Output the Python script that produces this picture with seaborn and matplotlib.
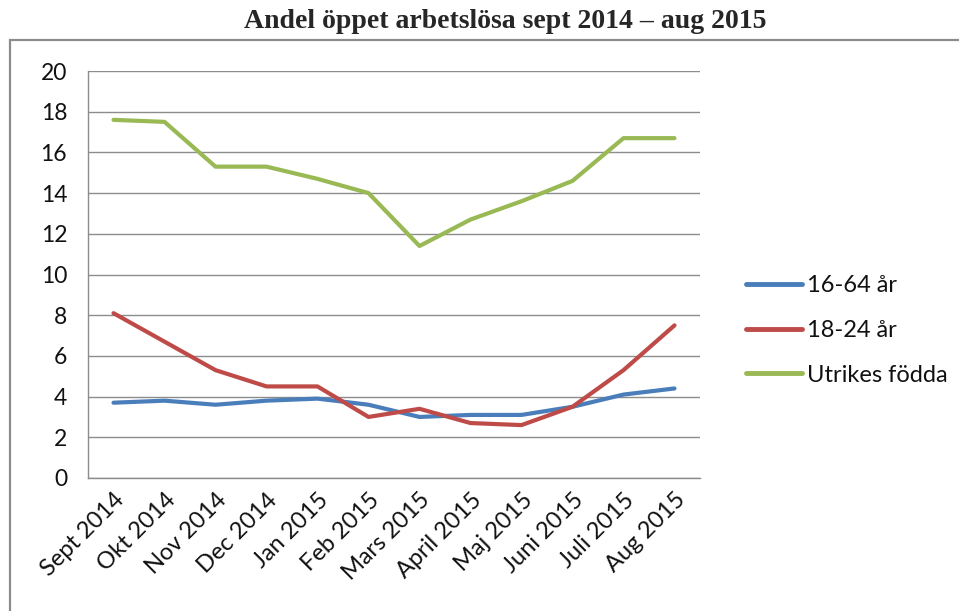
import matplotlib
matplotlib.use("Agg")
import matplotlib.pyplot as plt
import matplotlib.patches as mpatches
import pandas as pd
import seaborn as sns

# Data
months = ["Sept 2014", "Okt 2014", "Nov 2014", "Dec 2014", "Jan 2015", "Feb 2015",
          "Mars 2015", "April 2015", "Maj 2015", "Juni 2015", "Juli 2015", "Aug 2015"]
age_16_64 = [3.7, 3.8, 3.6, 3.8, 3.9, 3.6, 3.0, 3.1, 3.1, 3.5, 4.1, 4.4]
age_18_24 = [8.1, 6.7, 5.3, 4.5, 4.5, 3.0, 3.4, 2.7, 2.6, 3.5, 5.3, 7.5]
foreign_born = [17.6, 17.5, 15.3, 15.3, 14.7, 14.0, 11.4, 12.7, 13.6, 14.6, 16.7, 16.7]
series_names = ["16-64 år", "18-24 år", "Utrikes födda"]
colors = ["#4A7EBB", "#BE4B48", "#98B954"]
y_ticks = list(range(0, 21, 2))

df = pd.concat([
    pd.DataFrame({"month": months, "value": vals, "serie": name})
    for name, vals in zip(series_names, [age_16_64, age_18_24, foreign_born])
])

sns.set_style("white")
plt.rcParams["font.family"] = ["Lato", "DejaVu Sans"]

fig = plt.figure(figsize=(9.59, 6.11), dpi=100)
ax = fig.add_axes([88 / 959, 1 - 478 / 611, (700 - 88) / 959, (478 - 71) / 611])

sns.lineplot(data=df, x="month", y="value", hue="serie", palette=colors,
             linewidth=3, sort=False, ax=ax)

grid_c = "#8C8C8C"
ax.set_ylim(0, 20)
ax.set_yticks(y_ticks)
ax.set_xlim(-0.5, len(months) - 0.5)
ax.set_xticks(range(len(months)))
ax.set_xticklabels(months, rotation=45, ha="right", rotation_mode="anchor")
ax.set_xticks([i - 0.5 for i in range(len(months) + 1)], minor=True)
ax.tick_params(axis="x", which="major", length=0, pad=8, labelsize=17, colors="#111111")
ax.tick_params(axis="x", which="minor", length=6, width=1, color=grid_c, direction="out")
ax.tick_params(axis="y", length=6, width=1, color=grid_c, direction="out", labelsize=16.5,
               labelcolor="#111111", pad=9)
ax.yaxis.grid(True, color=grid_c, linewidth=1)
ax.set_axisbelow(True)
for side in ["top", "right"]:
    ax.spines[side].set_visible(False)
for side in ["left", "bottom"]:
    ax.spines[side].set_color(grid_c)
    ax.spines[side].set_linewidth(1)
ax.set_xlabel("")
ax.set_ylabel("")

leg = ax.legend(loc="upper left", bbox_to_anchor=(1.04, 0.55), frameon=False,
                fontsize=17, handlelength=2.4, handletextpad=0.2, labelspacing=1.0)
for h in leg.get_lines():
    h.set_linewidth(3.5)
    h.set_solid_capstyle("round")
for t in leg.get_texts():
    t.set_color("#111111")

fig.text(505 / 959, 1 - 22 / 611, "Andel öppet arbetslösa sept 2014 – aug 2015",
         ha="center", va="center", fontsize=20, fontweight="bold",
         family=["Liberation Serif", "DejaVu Serif"])

# border of the chart area, running off the right and bottom edges
fig.patches.append(mpatches.Rectangle((10 / 959, -0.1), 1.0, 1 - 40 / 611 + 0.1,
                                      transform=fig.transFigure, fill=False,
                                      edgecolor="#8C8C8C", linewidth=1.6))

fig.savefig("out.png", dpi=100)
